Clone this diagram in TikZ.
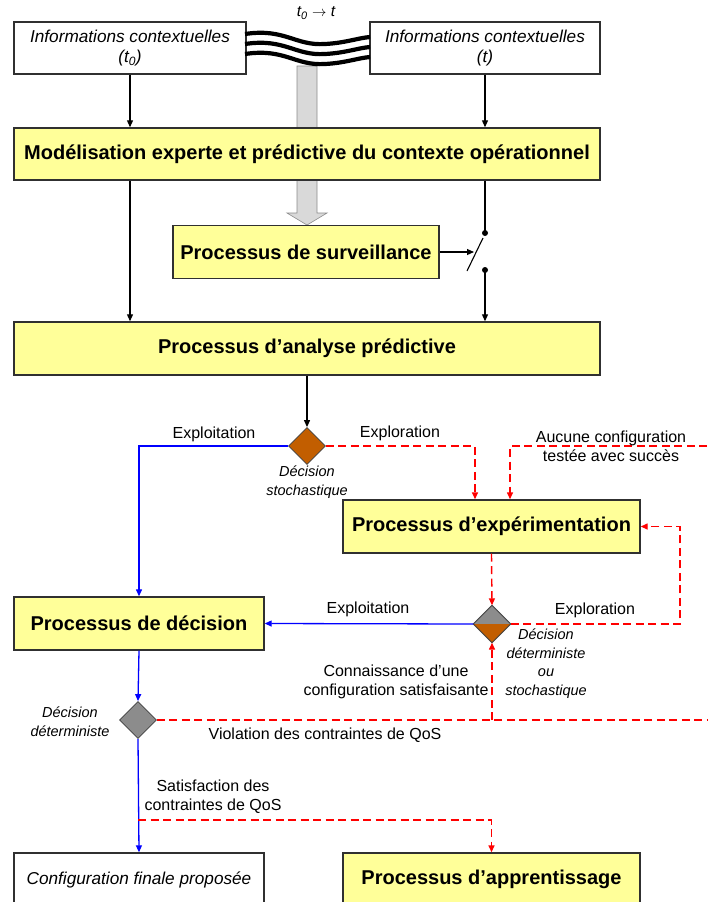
\documentclass[tikz,border=0pt]{standalone}
\usepackage{fontspec}
\setmainfont{Liberation Sans}
\usetikzlibrary{arrows.meta,shapes.geometric}
\definecolor{boxyellow}{HTML}{FFFF99}
\definecolor{brownd}{HTML}{C25E00}
\definecolor{grayd}{HTML}{8C8C8C}
\definecolor{bordergray}{HTML}{303030}
\definecolor{shaftgray}{HTML}{D9D9D9}
\begin{document}
\begin{tikzpicture}[x=1pt,y=-1pt,
  box/.style={draw=bordergray, line width=1.4pt, minimum height=53pt, inner sep=0pt, align=center},
  ybox/.style={box, fill=boxyellow, font=\fontsize{20}{23}\selectfont\bfseries},
  ibox/.style={box, fill=white, font=\fontsize{17.2}{20}\selectfont\itshape},
  lbl/.style={font=\fontsize{16}{19}\selectfont, align=center, inner sep=0pt},
  ilbl/.style={font=\fontsize{14.5}{18.5}\selectfont\itshape, align=center, inner sep=0pt},
  conn/.style={line width=1.1pt, draw=black},
  arr/.style={conn, -{Triangle[length=7pt,width=6pt]}},
  bluarr/.style={draw=blue, line width=1.3pt, -{Triangle[length=7pt,width=6pt]}},
  reddash/.style={draw=red, line width=1.4pt, dash pattern=on 8pt off 4.5pt},
  redarr/.style={reddash, -{Triangle[length=7pt,width=6pt]}},
  dia/.style={diamond, draw=black!75, line width=0.8pt, minimum width=37pt, minimum height=37pt, inner sep=0pt},
  wave/.style={line width=4.2pt, draw=black}
]
\useasboundingbox (0,0) rectangle (707,902);
\fill[white] (0,0) rectangle (707,902);

% grey arrow
\filldraw[fill=shaftgray, draw=black!45, line width=0.6pt]
  (297,66) -- (317,66) -- (317,213) -- (327,213) -- (307,225) -- (287,213) -- (297,213) -- cycle;

% top boxes
\node[ibox, minimum width=232pt, minimum height=52pt] (i0) at (130,48) {Informations contextuelles\\(t\textsubscript{0})};
\node[ibox, minimum width=230pt, minimum height=52pt] (it) at (485,48) {Informations contextuelles\\(t)};

% waves
\foreach \o in {0,10,20} {
  \draw[wave] (245,{34+\o}) .. controls (285,{28+\o}) and (295,{46+\o}) .. (325,{44+\o})
               .. controls (345,{43+\o}) and (358,{38+\o}) .. (370,{37+\o});
}
\node[font=\fontsize{15.5}{18}\selectfont\itshape, inner sep=0pt] (tlab) at (316,13) {t\textsubscript{0} $\rightarrow$ t};

\node[ybox, minimum width=586pt, minimum height=52pt] (mod) at (307,154) {Modélisation experte et prédictive du contexte opérationnel};
\node[ybox, minimum width=266pt] (surv) at (306,252) {Processus de surveillance};
\node[ybox, minimum width=586pt] (ana) at (307,348.5) {Processus d’analyse prédictive};
\node[ybox, minimum width=297pt] (exp) at (491.5,526.5) {Processus d’expérimentation};
\node[ybox, minimum width=250pt] (dec) at (139,623.5) {Processus de décision};
\node[ibox, minimum width=250pt] (fin) at (139,879.5) {Configuration finale proposée};
\node[ybox, minimum width=297pt] (app) at (491.5,879.5) {Processus d’apprentissage};

% diamonds
\node[dia, fill=brownd] (d1) at (307,446) {};
\node[diamond, minimum width=37pt, minimum height=37pt, inner sep=0pt] (d2) at (492,624) {};
\fill[grayd] (d2.west) -- (d2.north) -- (d2.east) -- cycle;
\fill[brownd] (d2.west) -- (d2.south) -- (d2.east) -- cycle;
\draw[black!75, line width=0.8pt] (d2.north) -- (d2.east) -- (d2.south) -- (d2.west) -- cycle;
\node[dia, fill=grayd] (d3) at (138,720) {};

% top connectors
\draw[arr] (i0.south) -- (i0.south |- mod.north);
\draw[arr] (it.south) -- (it.south |- mod.north);
\draw[arr] (i0.south |- mod.south) -- (i0.south |- ana.north);
\coordinate (s1) at (485,233);
\coordinate (s2) at (485,270);
\coordinate (sw) at (474,252);
\draw[conn] (it.south |- mod.south) -- (s1);
\fill (s1) circle (3);
\fill (s2) circle (3);
\draw[conn] (483,238) -- (467,271);
\draw[arr] (surv.east) -- (sw);
\draw[arr] (s2) -- (s2 |- ana.north);
\draw[arr] (ana.south) -- (d1.north);

% decision connectors
\path (exp.north) ++(-16.5,0) coordinate (expin1) ++(35,0) coordinate (expin2);
\coordinate (rin) at (707,446);
\coordinate (loopc) at (680,624);
\coordinate (rout) at (707,720);
\coordinate (sp) at (138,820);
\draw[bluarr] (d1.west) -| (dec.north);
\draw[redarr] (d1.east) -| (expin1);
\draw[redarr] (rin) -| (expin2);
\draw[redarr] (exp.south) -- (d2.north);
\draw[redarr] (d2.east) -- (loopc) |- (exp.east);
\draw[bluarr] (d2.west) -- (dec.east);
\draw[bluarr] (dec.south) -- (d3.north);
\draw[reddash] (d3.east) -- (rout);
\draw[redarr] (d2.south |- d3.east) -- (d2.south);
\draw[bluarr] (d3.south) -- (fin.north);
\draw[redarr] (sp) -| (app.north);

% labels
\node[lbl] (l1) at (214,434) {Exploitation};
\node[lbl] (l2) at (400,433) {Exploration};
\node[lbl] (l3) at (611,446) {Aucune configuration\\testée avec succès};
\node[ilbl] (l4) at (307,482) {Décision\\stochastique};
\node[lbl] (l5) at (368,609) {Exploitation};
\node[lbl] (l6) at (595,610) {Exploration};
\node[ilbl] (l7) at (546,663.5) {Décision\\déterministe\\ou\\stochastique};
\node[lbl] (l8) at (396,682) {Connaissance d’une\\configuration satisfaisante};
\node[ilbl] (l9) at (70,721.5) {Décision\\déterministe};
\node[lbl] (l10) at (325,735) {Violation des contraintes de QoS};
\node[lbl] (l11) at (213,796.5) {Satisfaction des\\contraintes de QoS};
\end{tikzpicture}
\end{document}
